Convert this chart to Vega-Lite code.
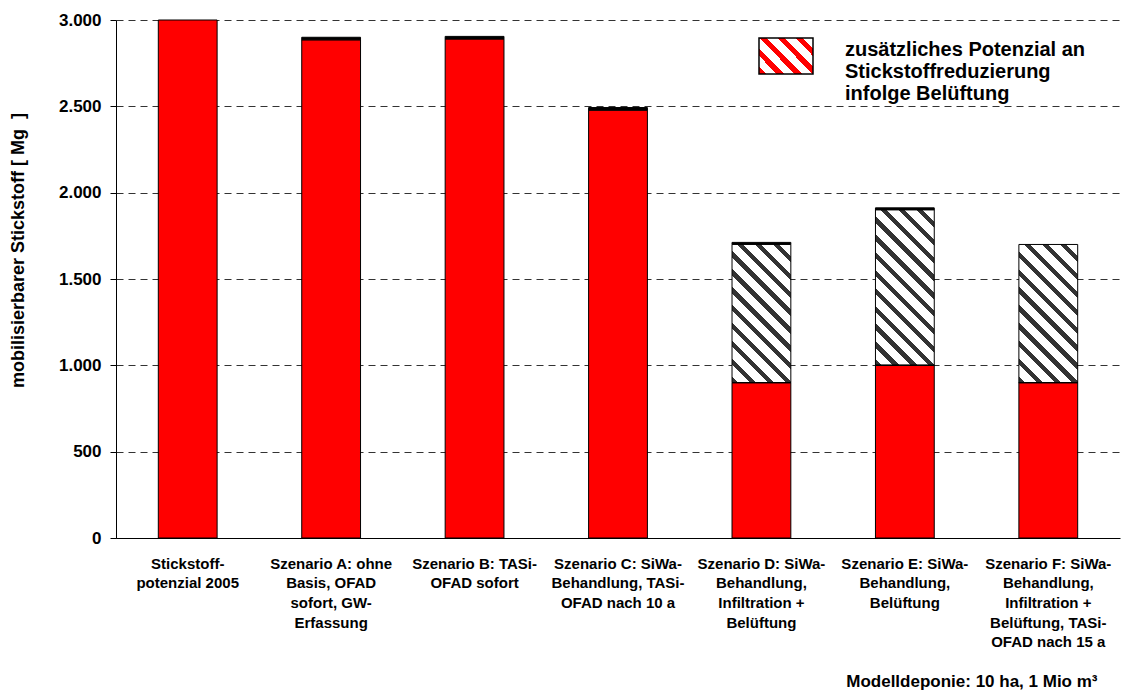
{
  "$schema": "https://vega.github.io/schema/vega-lite/v6.json",
  "width": 1004,
  "height": 518,
  "autosize": {"type": "none"},
  "padding": {"left": 116, "top": 20, "right": 1, "bottom": 152},
  "background": "white",
  "config": {
    "font": "Liberation Sans",
    "view": {"stroke": null},
    "axis": {"labelFont": "Liberation Sans", "titleFont": "Liberation Sans", "labelFontWeight": "bold", "titleFontWeight": "bold", "labelColor": "black", "titleColor": "black", "domainColor": "black", "tickColor": "black"},
    "legend": {"labelFont": "Liberation Sans", "labelFontWeight": "bold", "labelColor": "black"}
  },
  "data": {
    "values": [
      {"kat": "Stickstoff-|potenzial 2005", "typ": "Basis", "ord": 1, "wert": 3000},
      {"kat": "Szenario A: ohne|Basis, OFAD|sofort, GW-|Erfassung", "typ": "Basis", "ord": 1, "wert": 2885},
      {"kat": "Szenario A: ohne|Basis, OFAD|sofort, GW-|Erfassung", "typ": "Rest", "ord": 3, "wert": 15},
      {"kat": "Szenario B: TASi-|OFAD sofort", "typ": "Basis", "ord": 1, "wert": 2890},
      {"kat": "Szenario B: TASi-|OFAD sofort", "typ": "Rest", "ord": 3, "wert": 15},
      {"kat": "Szenario C: SiWa-|Behandlung, TASi-|OFAD nach 10 a", "typ": "Basis", "ord": 1, "wert": 2478},
      {"kat": "Szenario C: SiWa-|Behandlung, TASi-|OFAD nach 10 a", "typ": "Rest", "ord": 3, "wert": 15},
      {"kat": "Szenario D: SiWa-|Behandlung,|Infiltration +|Belüftung", "typ": "Basis", "ord": 1, "wert": 900},
      {"kat": "Szenario D: SiWa-|Behandlung,|Infiltration +|Belüftung", "typ": "Belüftung", "ord": 2, "wert": 800},
      {"kat": "Szenario D: SiWa-|Behandlung,|Infiltration +|Belüftung", "typ": "Rest", "ord": 3, "wert": 12},
      {"kat": "Szenario E: SiWa-|Behandlung,|Belüftung", "typ": "Basis", "ord": 1, "wert": 1000},
      {"kat": "Szenario E: SiWa-|Behandlung,|Belüftung", "typ": "Belüftung", "ord": 2, "wert": 900},
      {"kat": "Szenario E: SiWa-|Behandlung,|Belüftung", "typ": "Rest", "ord": 3, "wert": 12},
      {"kat": "Szenario F: SiWa-|Behandlung,|Infiltration +|Belüftung, TASi-|OFAD nach 15 a", "typ": "Basis", "ord": 1, "wert": 900},
      {"kat": "Szenario F: SiWa-|Behandlung,|Infiltration +|Belüftung, TASi-|OFAD nach 15 a", "typ": "Belüftung", "ord": 2, "wert": 800}
    ]
  },
  "transform": [
    {"stack": "wert", "groupby": ["kat"], "sort": [{"field": "ord", "order": "ascending"}], "as": ["y0", "y1"]},
    {"calculate": "'zusätzliches Potenzial an Stickstoffreduzierung infolge Belüftung'", "as": "legende"},
    {"calculate": "'Rahmen'", "as": "rahmen"}
  ],
  "encoding": {
    "x": {
      "field": "kat", "type": "nominal", "sort": null,
      "scale": {"paddingInner": 0.59, "paddingOuter": 0.295},
      "axis": {
        "labelAngle": 0, "labelExpr": "split(datum.label, '|')", "labelFontSize": 15, "labelLineHeight": 19.7,
        "labelPadding": 18, "ticks": false, "labelLimit": 200, "labelBaseline": "top",
        "domainWidth": 1,
        "title": "Modelldeponie: 10 ha, 1 Mio m³", "titleFontSize": 17, "titleX": 981, "titleY": 148,
        "titleAlign": "right", "titleBaseline": "alphabetic", "titleAnchor": null
      }
    },
    "y": {
      "field": "y1", "type": "quantitative",
      "scale": {"domain": [0, 3000], "nice": false},
      "axis": {
        "values": [0, 500, 1000, 1500, 2000, 2500, 3000],
        "labelExpr": "replace(format(datum.value, ','), ',', '.')",
        "labelFontSize": 17, "labelPadding": 9, "tickSize": 6,
        "grid": true, "gridDash": [7, 5], "gridColor": "#333", "gridWidth": 1,
        "title": "mobilisierbarer Stickstoff [ Mg\u00a0\u00a0]", "titleFontSize": 18, "titleX": -98, "titleY": 230,
        "titleBaseline": "middle", "titleAlign": "center"
      }
    },
    "y2": {"field": "y0"}
  },
  "layer": [
    {
      "transform": [{"filter": "datum.typ === 'Basis'"}],
      "mark": {"type": "bar", "fill": "#FF0000", "stroke": "black", "strokeWidth": 1}
    },
    {
      "transform": [{"filter": "datum.typ === 'Rest'"}],
      "mark": {"type": "bar", "fill": "black", "stroke": "black", "strokeWidth": 1}
    },
    {
      "transform": [{"filter": "datum.typ === 'Belüftung' && datum.wert === 800"}],
      "mark": {
        "type": "bar", "stroke": "black", "strokeWidth": 1,
        "fill": {
          "id": "hatchDF",
          "gradient": "linear", "x1": 0, "y1": 1, "x2": 0.514, "y2": -0.207,
          "stops": [
            {"offset": 0, "color": "#333"}, {"offset": 0.0318, "color": "#333"}, {"offset": 0.0318, "color": "white"}, {"offset": 0.0909, "color": "white"},
            {"offset": 0.0909, "color": "#333"}, {"offset": 0.1227, "color": "#333"}, {"offset": 0.1227, "color": "white"}, {"offset": 0.1818, "color": "white"},
            {"offset": 0.1818, "color": "#333"}, {"offset": 0.2136, "color": "#333"}, {"offset": 0.2136, "color": "white"}, {"offset": 0.2727, "color": "white"},
            {"offset": 0.2727, "color": "#333"}, {"offset": 0.3045, "color": "#333"}, {"offset": 0.3045, "color": "white"}, {"offset": 0.3636, "color": "white"},
            {"offset": 0.3636, "color": "#333"}, {"offset": 0.3955, "color": "#333"}, {"offset": 0.3955, "color": "white"}, {"offset": 0.4545, "color": "white"},
            {"offset": 0.4545, "color": "#333"}, {"offset": 0.4864, "color": "#333"}, {"offset": 0.4864, "color": "white"}, {"offset": 0.5455, "color": "white"},
            {"offset": 0.5455, "color": "#333"}, {"offset": 0.5773, "color": "#333"}, {"offset": 0.5773, "color": "white"}, {"offset": 0.6364, "color": "white"},
            {"offset": 0.6364, "color": "#333"}, {"offset": 0.6682, "color": "#333"}, {"offset": 0.6682, "color": "white"}, {"offset": 0.7273, "color": "white"},
            {"offset": 0.7273, "color": "#333"}, {"offset": 0.7591, "color": "#333"}, {"offset": 0.7591, "color": "white"}, {"offset": 0.8182, "color": "white"},
            {"offset": 0.8182, "color": "#333"}, {"offset": 0.85, "color": "#333"}, {"offset": 0.85, "color": "white"}, {"offset": 0.9091, "color": "white"},
            {"offset": 0.9091, "color": "#333"}, {"offset": 0.9409, "color": "#333"}, {"offset": 0.9409, "color": "white"}, {"offset": 1, "color": "white"}
          ]
        }
      }
    },
    {
      "transform": [{"filter": "datum.typ === 'Belüftung' && datum.wert === 900"}],
      "mark": {
        "type": "bar", "stroke": "black", "strokeWidth": 1,
        "fill": {
          "id": "hatchE",
          "gradient": "linear", "x1": 0, "y1": 1, "x2": 0.456, "y2": -0.205,
          "stops": [
            {"offset": 0, "color": "#333"}, {"offset": 0.0292, "color": "#333"}, {"offset": 0.0292, "color": "white"}, {"offset": 0.0833, "color": "white"},
            {"offset": 0.0833, "color": "#333"}, {"offset": 0.1125, "color": "#333"}, {"offset": 0.1125, "color": "white"}, {"offset": 0.1667, "color": "white"},
            {"offset": 0.1667, "color": "#333"}, {"offset": 0.1958, "color": "#333"}, {"offset": 0.1958, "color": "white"}, {"offset": 0.25, "color": "white"},
            {"offset": 0.25, "color": "#333"}, {"offset": 0.2792, "color": "#333"}, {"offset": 0.2792, "color": "white"}, {"offset": 0.3333, "color": "white"},
            {"offset": 0.3333, "color": "#333"}, {"offset": 0.3625, "color": "#333"}, {"offset": 0.3625, "color": "white"}, {"offset": 0.4167, "color": "white"},
            {"offset": 0.4167, "color": "#333"}, {"offset": 0.4458, "color": "#333"}, {"offset": 0.4458, "color": "white"}, {"offset": 0.5, "color": "white"},
            {"offset": 0.5, "color": "#333"}, {"offset": 0.5292, "color": "#333"}, {"offset": 0.5292, "color": "white"}, {"offset": 0.5833, "color": "white"},
            {"offset": 0.5833, "color": "#333"}, {"offset": 0.6125, "color": "#333"}, {"offset": 0.6125, "color": "white"}, {"offset": 0.6667, "color": "white"},
            {"offset": 0.6667, "color": "#333"}, {"offset": 0.6958, "color": "#333"}, {"offset": 0.6958, "color": "white"}, {"offset": 0.75, "color": "white"},
            {"offset": 0.75, "color": "#333"}, {"offset": 0.7792, "color": "#333"}, {"offset": 0.7792, "color": "white"}, {"offset": 0.8333, "color": "white"},
            {"offset": 0.8333, "color": "#333"}, {"offset": 0.8625, "color": "#333"}, {"offset": 0.8625, "color": "white"}, {"offset": 0.9167, "color": "white"},
            {"offset": 0.9167, "color": "#333"}, {"offset": 0.9458, "color": "#333"}, {"offset": 0.9458, "color": "white"}, {"offset": 1, "color": "white"}
          ]
        }
      }
    },
    {
      "transform": [{"filter": "datum.typ === 'Belüftung'"}],
      "mark": {
        "type": "bar", "stroke": "black", "strokeWidth": 1,
        "fill": {
          "id": "legendRed",
          "gradient": "linear", "x1": 0, "y1": 1, "x2": 1.154, "y2": 0.231,
          "stops": [
            {"offset": 0, "color": "#FF0000"}, {"offset": 0.08, "color": "#FF0000"}, {"offset": 0.08, "color": "white"}, {"offset": 0.2, "color": "white"},
            {"offset": 0.2, "color": "#FF0000"}, {"offset": 0.28, "color": "#FF0000"}, {"offset": 0.28, "color": "white"}, {"offset": 0.4, "color": "white"},
            {"offset": 0.4, "color": "#FF0000"}, {"offset": 0.48, "color": "#FF0000"}, {"offset": 0.48, "color": "white"}, {"offset": 0.6, "color": "white"},
            {"offset": 0.6, "color": "#FF0000"}, {"offset": 0.68, "color": "#FF0000"}, {"offset": 0.68, "color": "white"}, {"offset": 0.8, "color": "white"},
            {"offset": 0.8, "color": "#FF0000"}, {"offset": 0.88, "color": "#FF0000"}, {"offset": 0.88, "color": "white"}, {"offset": 1, "color": "white"}
          ]
        }
      },
      "encoding": {
        "y": {"field": "y0", "type": "quantitative"},
        "y2": {"field": "y0"},
        "opacity": {
          "field": "legende", "type": "nominal", "scale": {"range": [1]},
          "legend": {
            "title": null, "orient": "none", "legendX": 642, "legendY": 8, "padding": 0,
            "symbolType": "M-1,-0.667H1V0.667H-1Z", "symbolSize": 2916,
            "labelFontSize": 20, "labelLineHeight": 25, "labelBaseline": "alphabetic", "labelOffset": 31, "labelLimit": 500,
            "labelExpr": "['zusätzliches Potenzial an', 'Stickstoffreduzierung', 'infolge Belüftung']"
          }
        }
      }
    },
    {
      "transform": [{"filter": "datum.typ === 'Belüftung'"}],
      "mark": {"type": "bar", "fill": "transparent", "stroke": "black", "strokeWidth": 1},
      "encoding": {
        "y": {"field": "y0", "type": "quantitative"},
        "y2": {"field": "y0"},
        "strokeOpacity": {
          "field": "rahmen", "type": "nominal", "scale": {"range": [1]},
          "legend": {
            "title": null, "orient": "none", "legendX": 642, "legendY": 18, "padding": 0,
            "symbolType": "M-1,-0.667H1V0.667H-1Z", "symbolSize": 2916,
            "labelFontSize": 20, "labelOffset": 31, "labelExpr": "''"
          }
        }
      }
    }
  ]
}
